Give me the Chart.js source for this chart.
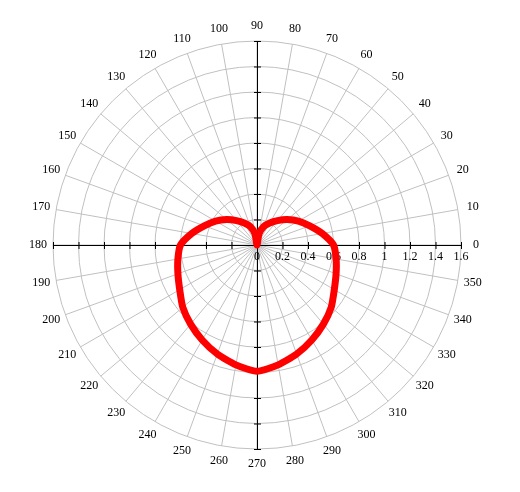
<!DOCTYPE html>
<html>
<head>
<meta charset="utf-8">
<script src="https://cdn.jsdelivr.net/npm/chart.js@4.4.0/dist/chart.umd.min.js"></script>
<style>
  body { margin: 0; background: #fff; }
  #wrap { width: 520px; height: 492px; }
</style>
</head>
<body>
<div id="wrap"><canvas id="heart" width="520" height="492"></canvas></div>
<script>
// angle in degrees (counter-clockwise from east) and radius
const angles = [0, 10, 20, 30, 40, 50, 60, 70, 80, 90, 100, 110, 120, 130, 140, 150, 160, 170,
  180, 190, 200, 210, 220, 230, 240, 250, 260, 270, 280, 290, 300, 310, 320, 330, 340, 350];
const radius = [0.60, 0.52, 0.44, 0.375, 0.31, 0.25, 0.20, 0.155, 0.09, 0, 0.09, 0.155, 0.20, 0.25, 0.31, 0.375, 0.44, 0.52,
  0.60, 0.63, 0.66, 0.70, 0.76, 0.81, 0.86, 0.91, 0.955, 0.99, 0.955, 0.91, 0.86, 0.81, 0.76, 0.70, 0.66, 0.63];
const tickValues = [0, 0.2, 0.4, 0.6, 0.8, 1, 1.2, 1.4, 1.6];
const tickLabels = ["0", "0.2", "0.4", "0.6", "0.8", "1", "1.2", "1.4", "1.6"];

// radar runs clockwise from its start angle, the plot runs counter-clockwise
const order = angles.map((a, i) => i === 0 ? 0 : angles.length - i);
const radarLabels = order.map(i => String(angles[i]));
const radarData = order.map(i => radius[i]);

const FONT = "12px 'Liberation Serif', 'Times New Roman', serif";

// black axes with ticks, tick labels and angle labels
const polarAxes = {
  id: "polarAxes",
  beforeDatasetsDraw(chart) {
    const s = chart.scales.r;
    const ctx = chart.ctx;
    const cx = s.xCenter, cy = s.yCenter, R = s.drawingArea;
    ctx.save();
    ctx.strokeStyle = "#000";
    ctx.lineWidth = 1;
    ctx.beginPath();
    ctx.moveTo(cx - R, cy + 0.5); ctx.lineTo(cx + R + 1, cy + 0.5);
    ctx.moveTo(cx + 0.5, cy - R); ctx.lineTo(cx + 0.5, cy + R + 1);
    tickValues.forEach(v => {
      const d = s.getDistanceFromCenterForValue(v);
      [-1, 1].forEach(sg => {
        ctx.moveTo(cx + sg * d + 0.5, cy - 3); ctx.lineTo(cx + sg * d + 0.5, cy + 4);
        ctx.moveTo(cx - 3, cy + sg * d + 0.5); ctx.lineTo(cx + 4, cy + sg * d + 0.5);
      });
    });
    ctx.stroke();

    ctx.fillStyle = "#000";
    ctx.font = FONT;
    ctx.textAlign = "center";
    ctx.textBaseline = "middle";
    tickValues.forEach((v, i) => {
      ctx.fillText(tickLabels[i], cx + s.getDistanceFromCenterForValue(v), cy + 12);
    });
    radarLabels.forEach((t, i) => {
      const p = s.getPointPosition(i, R + 15);
      ctx.fillText(t, p.x, p.y);
    });
    ctx.restore();
  }
};

new Chart(document.getElementById("heart"), {
  type: "radar",
  data: {
    labels: radarLabels,
    datasets: [{
      data: radarData,
      borderColor: "#ff0000",
      borderWidth: 7,
      borderJoinStyle: "round",
      pointRadius: 0,
      fill: false,
      tension: 0.2
    }]
  },
  options: {
    responsive: false,
    animation: false,
    layout: { padding: { left: 53, right: 59, top: 41, bottom: 43 } },
    plugins: { legend: { display: false }, tooltip: { enabled: false } },
    scales: {
      r: {
        min: 0,
        max: 1.6,
        startAngle: 90,
        ticks: { display: false, stepSize: 0.2 },
        pointLabels: { display: false },
        grid: { circular: true, color: "#c0c0c0" },
        angleLines: { color: "#c0c0c0" }
      }
    }
  },
  plugins: [polarAxes]
});
</script>
</body>
</html>
